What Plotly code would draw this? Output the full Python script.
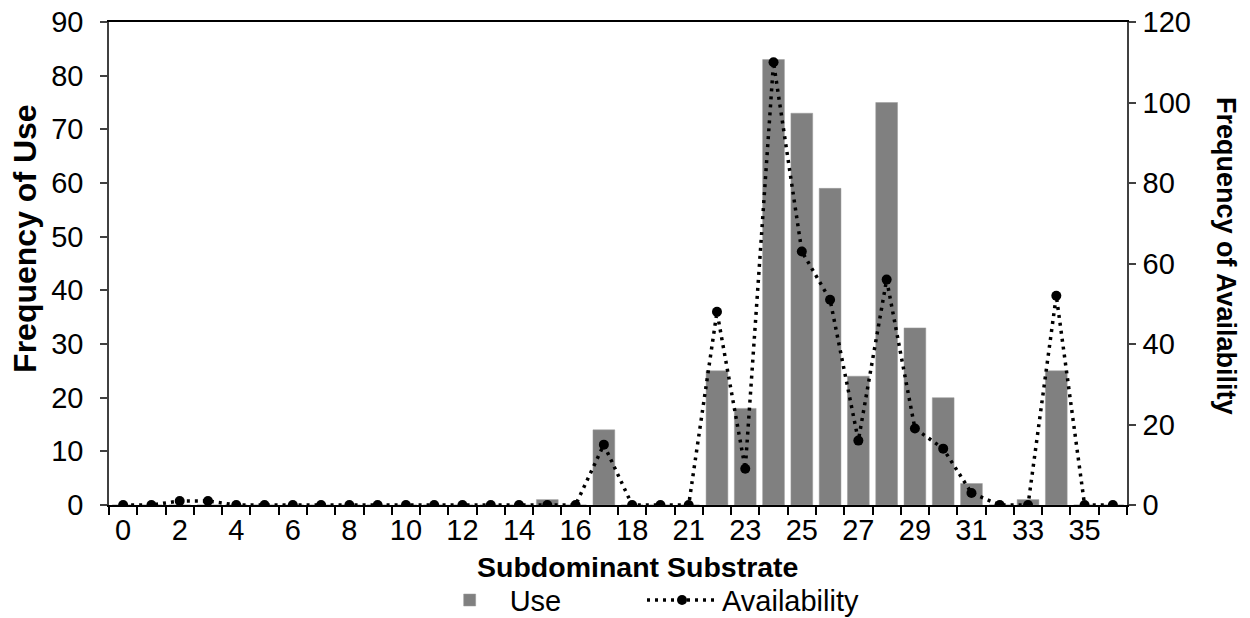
import plotly.graph_objects as go

# category labels on the x axis (substrate codes)
categories = [str(c) for c in list(range(0, 20)) + list(range(21, 37))]

# frequency of use (left axis)
use = [0, 0, 0, 0, 0, 0, 0, 0, 0, 0, 0, 0, 0, 0, 0, 1, 0, 14, 0, 0,
       0, 25, 18, 83, 73, 59, 24, 75, 33, 20, 4, 0, 1, 25, 0, 0]

# frequency of availability (right axis)
availability = [0, 0, 1, 1, 0, 0, 0, 0, 0, 0, 0, 0, 0, 0, 0, 0, 0, 15, 0, 0,
                0, 48, 9, 110, 63, 51, 16, 56, 19, 14, 3, 0, 0, 52, 0, 0]

pos = list(range(len(categories)))
font = "Arial, Liberation Sans, sans-serif"

fig = go.Figure()
fig.add_trace(go.Bar(x=pos, y=use, name="Use", legend="legend",
                     marker=dict(color="#808080", line=dict(color="#9a9a9a", width=0.5))))
fig.add_trace(go.Scatter(x=pos, y=availability, name="Availability", yaxis="y2",
                         legend="legend2", mode="lines+markers",
                         line=dict(color="black", width=3.5, dash="3px,5px"),
                         marker=dict(color="black", size=10)))

legend_style = dict(orientation="h", xanchor="left", y=-0.197, yanchor="middle",
                    font=dict(size=29), itemwidth=70, bgcolor="rgba(0,0,0,0)")

fig.update_layout(
    width=1250, height=618,
    margin=dict(l=109, r=123, t=22, b=113, autoexpand=False),
    plot_bgcolor="white", paper_bgcolor="white",
    font=dict(family=font, size=29, color="black"),
    bargap=0.23,
    showlegend=True,
    legend=dict(x=0.315, **legend_style),
    legend2=dict(x=0.5236, **legend_style),
    xaxis=dict(range=[-0.5, len(categories) - 0.5], automargin=False,
               tickmode="array", tickvals=pos[::2], ticktext=categories[::2],
               ticks="", ticklen=0, ticklabelstandoff=-2, showgrid=False, zeroline=False,
               showline=True, linecolor="black", linewidth=1.5, mirror=True,
               minor=dict(tickmode="linear", tick0=-0.5, dtick=1, ticks="outside",
                          ticklen=8, tickcolor="black", tickwidth=1.5, showgrid=False),
               tickfont=dict(size=29)),
    yaxis=dict(range=[0, 90], dtick=10, ticks="outside", ticklen=7, tickcolor="#404040",
               tickwidth=1.5, ticklabelstandoff=11, showgrid=False, zeroline=False,
               automargin=False, showline=True, linecolor="#404040", linewidth=1.5,
               tickfont=dict(size=29)),
    yaxis2=dict(range=[0, 120], dtick=20, overlaying="y", side="right",
                ticks="outside", ticklen=7, tickcolor="#404040", tickwidth=1.5,
                ticklabelstandoff=1, showgrid=False, zeroline=False, automargin=False,
                showline=True, linecolor="#404040", linewidth=1.5,
                tickfont=dict(size=29)),
    annotations=[
        dict(text="<b>Frequency of Use</b>", x=-0.0825, y=0.551, xref="paper", yref="paper",
             textangle=-90, showarrow=False, font=dict(size=32),
             xanchor="center", yanchor="middle"),
        dict(text="<b>Frequency of Availability</b>", x=1.097, y=0.516, xref="paper", yref="paper",
             textangle=90, showarrow=False, font=dict(size=27),
             xanchor="center", yanchor="middle"),
        dict(text="<b>Subdominant Substrate</b>", x=0.519, y=-0.128, xref="paper", yref="paper",
             showarrow=False, font=dict(size=28.5), xanchor="center", yanchor="middle"),
    ],
)

# drop the page's default body margin so the figure sits at the window's corner
fig.write_html("out.html", config={"displayModeBar": False},
               post_script="document.body.style.margin = '0';")
